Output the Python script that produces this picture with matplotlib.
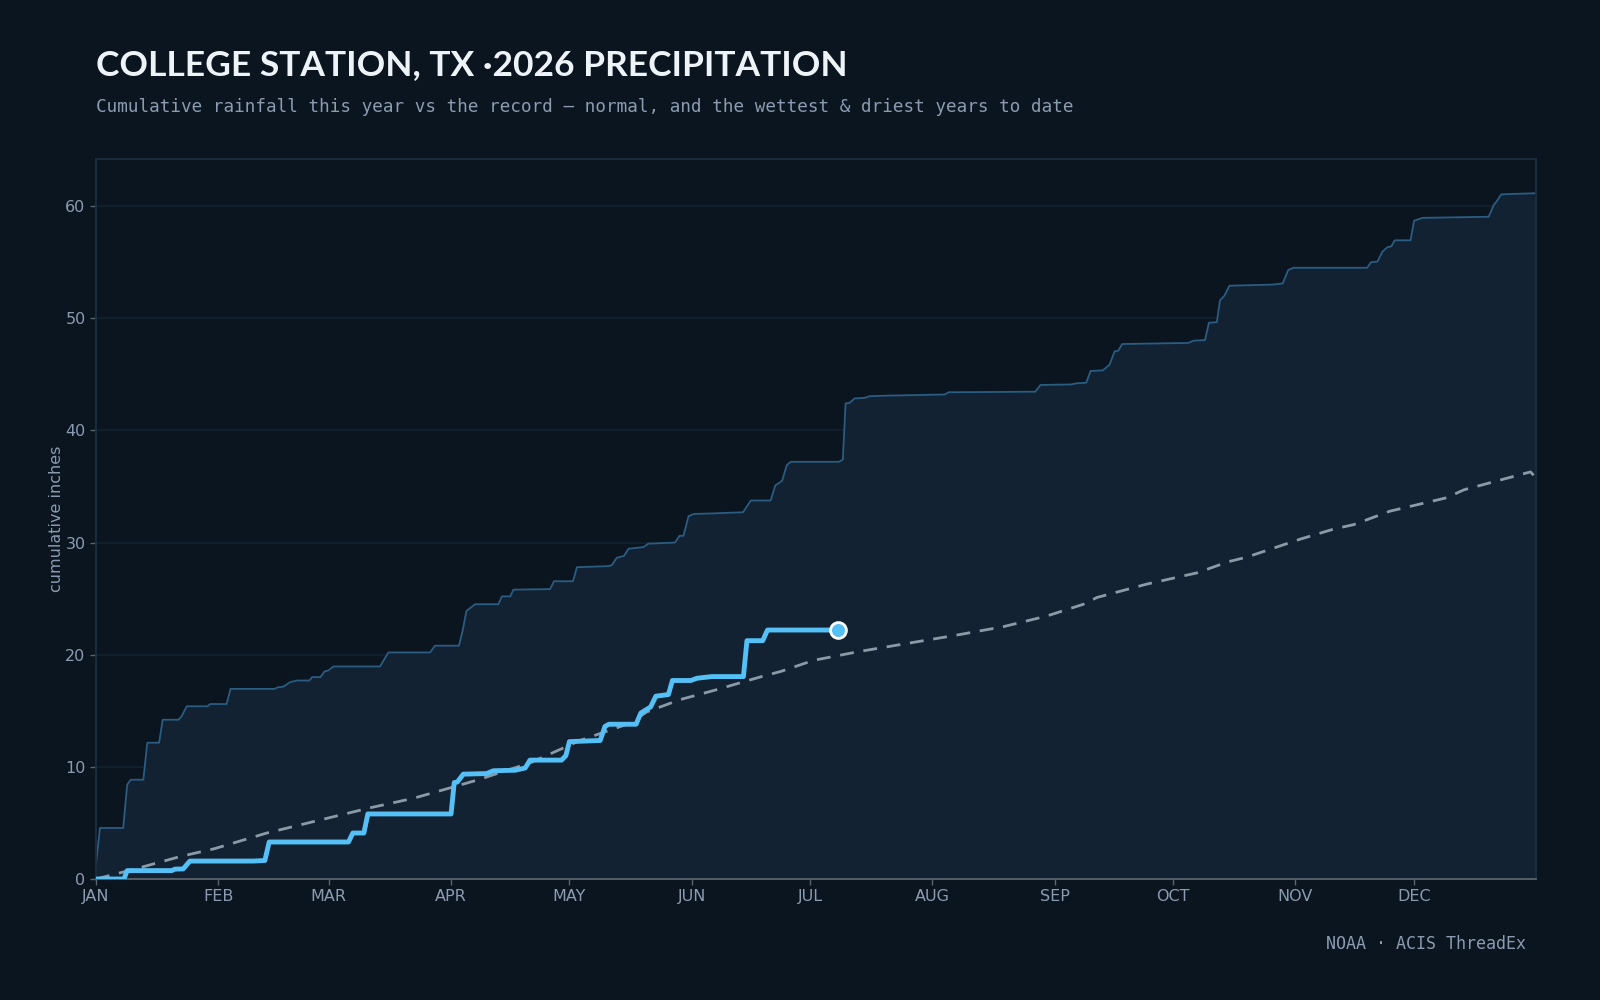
import matplotlib
matplotlib.use("Agg")
import matplotlib.pyplot as plt

# day of year (0 = Jan 1) / cumulative inches
wet_day = [0, 1.0, 6.9, 7.9, 8.8, 12.0, 13.0, 16.0, 16.9, 20.9, 21.7, 23.0, 28.3, 28.9, 33.1, 34.1,
           45.2, 46.2, 47.5, 49.2, 51.0, 54.1, 54.8, 56.9, 57.9, 58.9, 60.2, 72.0, 74.1, 84.7, 85.9,
           92.0, 92.9, 93.9, 96.1, 102.0, 102.9, 105.0, 105.8, 115.1, 116.1, 120.9, 121.9, 129.9,
           130.8, 132.0, 133.8, 135.0, 138.8, 140.0, 146.8, 147.9, 148.9, 150.2, 151.5, 156.5, 164.0,
           166.0, 171.0, 172.2, 173.9, 175.1, 176.1, 188.3, 189.3, 190.0, 191.0, 192.3, 194.8, 196.1,
           200.6, 215.1, 216.1, 238.1, 239.4, 247.2, 248.5, 251.0, 252.1, 255.2, 256.9, 258.2, 259.1,
           260.1, 276.9, 278.2, 281.1, 282.1, 284.1, 284.9, 286.0, 287.3, 298.2, 300.8, 302.2, 303.5,
           322.2, 323.2, 324.8, 326.1, 327.4, 328.3, 329.2, 333.2, 334.1, 335.0, 336.2, 353.0, 354.3,
           355.0, 356.2, 365.0]
wet_val = [1.3, 4.55, 4.55, 8.4, 8.85, 8.85, 12.15, 12.15, 14.2, 14.2, 14.5, 15.4, 15.4, 15.6, 15.6, 16.95,
           16.95, 17.1, 17.15, 17.55, 17.7, 17.7, 18.0, 18.0, 18.5, 18.6, 18.95, 18.95, 20.2, 20.2, 20.8,
           20.8, 22.1, 23.9, 24.5, 24.5, 25.2, 25.2, 25.8, 25.85, 26.55, 26.55, 27.8, 27.9,
           28.0, 28.65, 28.8, 29.45, 29.6, 29.9, 30.0, 30.6, 30.6, 32.35, 32.55, 32.6, 32.7,
           33.75, 33.75, 35.1, 35.5, 36.9, 37.2, 37.2, 37.4, 42.4, 42.45, 42.85, 42.9, 43.05,
           43.1, 43.2, 43.4, 43.45, 44.05, 44.1, 44.2, 44.25, 45.3, 45.35, 45.85, 47.05, 47.1,
           47.7, 47.8, 48.0, 48.05, 49.6, 49.65, 51.6, 52.0, 52.9, 53.0, 53.1, 54.3, 54.5,
           54.5, 55.0, 55.05, 55.95, 56.35, 56.4, 56.95, 56.95, 58.7, 58.8, 58.95, 59.05, 60.1,
           60.4, 61.05, 61.15]

this_day = [0, 7.1, 7.9, 19.2, 20.0, 22.1, 23.8, 39.9, 42.8, 43.9, 64.0, 65.1, 67.9, 68.9, 90.0, 90.8,
            91.6, 93.1, 99.0, 100.7, 106.3, 108.8, 110.0, 118.0, 119.1, 120.0, 127.8, 129.0, 130.0,
            136.9, 138.1, 140.6, 141.9, 145.1, 146.1, 150.8, 152.3, 156.1, 164.1, 165.0, 169.0, 170.2,
            188.2]
this_val = [0, 0, 0.75, 0.75, 0.88, 0.9, 1.6, 1.6, 1.65, 3.3, 3.3, 4.1, 4.1, 5.8, 5.8, 8.6,
            8.65, 9.35, 9.4, 9.65, 9.7, 9.9, 10.6, 10.6, 11.0, 12.25, 12.35, 13.6, 13.8,
            13.8, 14.8, 15.35, 16.3, 16.45, 17.7, 17.7, 17.9, 18.05, 18.05, 21.25, 21.25, 22.2,
            22.2]

norm_day = [0, 10, 21.3, 30, 43.3, 59, 69.5, 80.5, 90, 97.4, 101.6, 110, 122.7, 135.4, 139.6, 148.1,
            156.5, 169.2, 173.5, 181.9, 193.7, 207.2, 217.4, 230, 241, 250.3, 253.7, 266.4, 279.1,
            287.1, 291.7, 305.2, 313.7, 318.8, 328, 342.4, 346.7, 363.6, 364.4]
norm_val = [0, 0.9, 2.0, 2.7, 4.1, 5.45, 6.35, 7.2, 8.15, 8.9, 9.4, 10.35, 12.35, 13.9, 14.9, 16.0,
            16.8, 18.1, 18.5, 19.5, 20.3, 21.1, 21.7, 22.5, 23.45, 24.5, 25.1, 26.3, 27.3,
            28.3, 28.7, 30.3, 31.2, 31.6, 32.8, 34.0, 34.7, 36.3, 36.0]

month_start = [0, 31, 59, 90, 120, 151, 181, 212, 243, 273, 304, 334]
month_lbl = ["JAN", "FEB", "MAR", "APR", "MAY", "JUN", "JUL", "AUG", "SEP", "OCT", "NOV", "DEC"]

BG = "#0b1520"
TXT = "#8b9bb0"

fig = plt.figure(figsize=(16, 10), dpi=100, facecolor=BG)
ax = fig.add_axes([0.06, 0.121, 0.90, 0.72], facecolor=BG)

ax.fill_between(wet_day, 0, wet_val, color="#122232", lw=0, zorder=1)
ax.plot(wet_day, wet_val, color="#2b5c82", lw=1.3, zorder=2)
ax.plot(norm_day, norm_val, color="#8c99a6", lw=2, ls=(0, (5, 3.5)), zorder=3)
ax.plot(this_day, this_val, color="#55c0f6", lw=3.5, zorder=4, solid_joinstyle="round")
ax.scatter([this_day[-1]], [this_val[-1]], s=130, color="#55c0f6", edgecolor="white",
           linewidth=2, zorder=5)

ax.set_xlim(0, 365)
ax.set_ylim(0, 64.2)
ax.set_xticks(month_start)
ax.set_xticklabels(month_lbl)
ax.set_yticks([0, 10, 20, 30, 40, 50, 60])
ax.tick_params(colors=TXT, labelsize=11.5, length=4, width=1)
ax.tick_params(axis="x", color="#5b636b")
ax.tick_params(axis="y", color="#5b636b")
ax.grid(axis="y", color="#13222f", lw=1.2, zorder=0)
ax.set_axisbelow(True)
for s in ["top", "left", "right"]:
    ax.spines[s].set_color("#1b2e40")
    ax.spines[s].set_linewidth(1.3)
ax.spines["bottom"].set_color("#5b636b")
ax.spines["bottom"].set_linewidth(1.3)
ax.set_ylabel("cumulative inches", color=TXT, fontsize=11.5, labelpad=1)

fig.text(0.06, 0.9245, "COLLEGE STATION, TX \u00b72026 PRECIPITATION", color="#eef3f8",
         fontsize=25.5, fontweight="bold", family="Lato", va="baseline")
fig.text(0.06, 0.8875, "Cumulative rainfall this year vs the record \u2014 normal, and the wettest & driest years to date",
         color=TXT, fontsize=12.7, family="DejaVu Sans Mono", va="baseline")
fig.text(0.954, 0.051, "NOAA \u00b7 ACIS ThreadEx", color=TXT, fontsize=12,
         family="DejaVu Sans Mono", ha="right", va="baseline")

fig.savefig("out.png", dpi=100, facecolor=BG)
